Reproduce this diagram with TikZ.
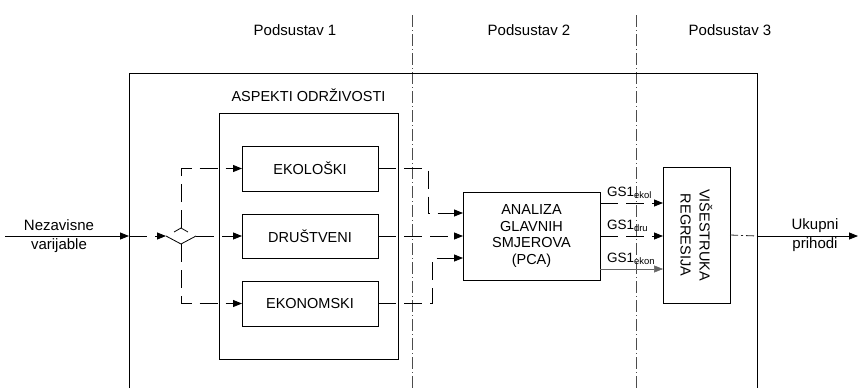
\documentclass[tikz,border=0pt]{standalone}
\usepackage{fontspec}
\setmainfont{Liberation Sans}
\usetikzlibrary{arrows.meta}
\begin{document}
\begin{tikzpicture}[x=1pt,y=-1pt,every node/.style={font=\fontsize{15}{17}\selectfont, inner sep=0pt, outer sep=0pt},
  blok/.style={draw, line width=0.9pt, font=\fontsize{14.5}{16.5}\selectfont, align=center},
  isprek/.style={line width=0.8pt, dash pattern=on 18pt off 8pt},
  puna/.style={line width=0.8pt},
  granica/.style={line width=0.5pt, black!70, dash pattern=on 12pt off 3pt on 1pt off 3pt},
  tip/.style={-{Triangle[length=9pt,width=7pt]}},
  gs/.style={font=\fontsize{13.5}{15}\selectfont, anchor=base west}]
\useasboundingbox (0,0) rectangle (858,388);
\draw[granica] (412,15) -- (412,388);
\draw[granica] (636,15) -- (636,388);
\node (pod1) at (295,30) {Podsustav 1};
\node (pod2) at (529,30) {Podsustav 2};
\node (pod3) at (730,30) {Podsustav 3};
\draw[line width=0.9pt] (129,388) |- (757,73) -- (757,388);
\node[font=\fontsize{14.5}{16.5}\selectfont] (asp) at (308.5,95) {ASPEKTI ODRŽIVOSTI};
\node[blok, minimum width=179, minimum height=246] (aspekti) at (308.5,236) {};
\node[blok, minimum width=136, minimum height=45] (eko) at (310,168.5) {EKOLOŠKI};
\node[blok, minimum width=136, minimum height=44] (dru) at (310,236) {DRUŠTVENI};
\node[blok, minimum width=136, minimum height=45] (ekon) at (310,303.5) {EKONOMSKI};
\node[blok, minimum width=137, minimum height=88] (pca) at (531.5,236) {ANALIZA\\GLAVNIH\\SMJEROVA\\(PCA)};
\node[blok, rotate=-90, minimum width=136, minimum height=67, font=\fontsize{14.5}{19}\selectfont] (reg) at (696.5,235) {VIŠESTRUKA\\REGRESIJA};
\node[align=center, font=\fontsize{15}{19.5}\selectfont] (nez) at (59,236) {Nezavisne\\varijable};
\node[align=center, font=\fontsize{15}{19.5}\selectfont] (uku) at (815,235) {Ukupni\\prihodi};
\coordinate (ulaz) at (5,236);
\coordinate (rub) at (129,236);
\coordinate (razL) at (166,236);
\coordinate (razR) at (196,236);
\coordinate (razG) at (181,228);
\coordinate (razD) at (181,244);
\coordinate (izlazR) at (757,236);
\coordinate (izlaz) at (858,236);
\draw[puna, tip] (ulaz) -- (rub);
\draw[isprek, tip] (rub) -- (razL);
\draw[puna] (razL) -- (razD) -- (razR);
\draw[puna] (174,232) -- (razG) -- (188,232);
\draw[isprek, tip] (razG) |- (eko.west);
\draw[isprek, tip] (razR) -- (dru.west);
\draw[isprek, tip] (razD) |- (ekon.west);
\draw[isprek, tip] (eko.east) -- ++(50,0) |- (pca.west |- {(0,213)});
\draw[isprek, tip] (dru.east) -- (pca.west);
\draw[isprek, tip] (ekon.east) -- ++(54,0) |- (pca.west |- {(0,258)});
\draw[isprek, tip] (pca.east |- {(0,203)}) -- (reg.south |- {(0,203)});
\draw[isprek, tip] (pca.east |- {(0,236)}) -- (reg.south |- {(0,236)});
\draw[line width=0.5pt, black!60, tip] (pca.east |- {(0,269)}) -- (reg.south |- {(0,269)});
\node[gs] (gs1) at (607,196) {GS1\textsubscript{ekol}};
\node[gs] (gs2) at (607,229) {GS1\textsubscript{dru}};
\node[gs] (gs3) at (607,262) {GS1\textsubscript{ekon}};
\draw[line width=0.8pt, black!85, dash pattern=on 8pt off 3pt on 2pt off 3pt] (reg.north) -- (izlazR);
\draw[puna, tip] (izlazR) -- (izlaz);
\end{tikzpicture}
\end{document}
